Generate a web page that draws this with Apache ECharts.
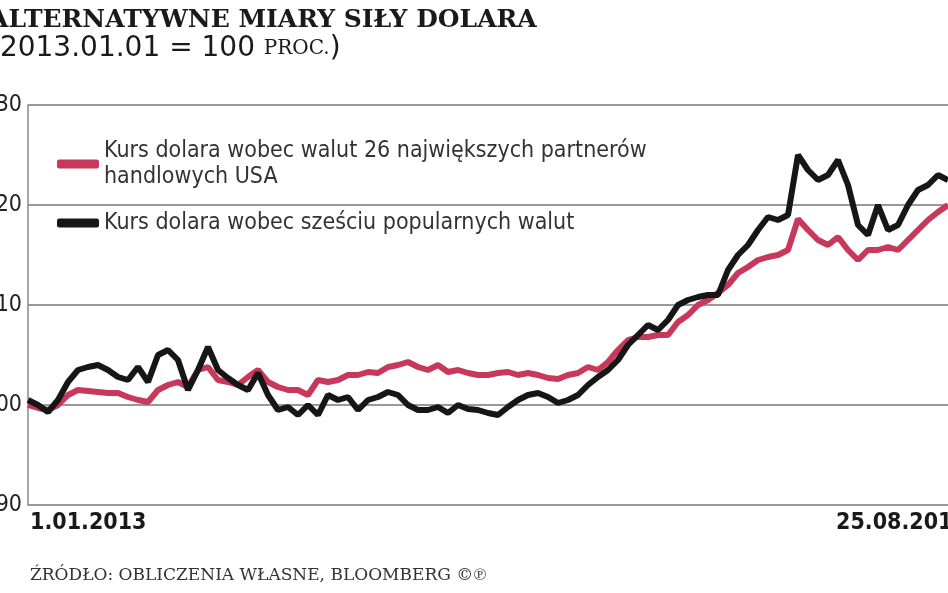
<!DOCTYPE html>
<html>
<head>
<meta charset="utf-8">
<title>Alternatywne miary siły dolara</title>
<script src="https://cdn.jsdelivr.net/npm/echarts@6/dist/echarts.min.js"></script>
</head>
<body style="margin:0">
<div id="main" style="width:948px;height:593px;"></div>
<script type="text/javascript">
// odczyty co ~1 tydzień, od 1.01.2013 do 25.08.2015
var szesc = [100.5,100,99.3,100.5,102.3,103.5,103.8,104,103.5,102.8,102.5,103.8,102.3,105,105.5,104.5,101.5,103.5,105.8,103.5,
  102.7,102,101.5,103.2,101,99.5,99.8,99,100,99,101,100.5,100.8,99.5,100.5,100.8,101.3,101,100,99.5,
  99.5,99.8,99.2,100,99.6,99.5,99.2,99,99.8,100.5,101,101.2,100.8,100.2,100.5,101,102,102.8,103.5,104.5,
  106,107,108,107.5,108.5,110,110.5,110.8,111,111,113.5,115,116,117.5,118.8,118.5,119,125,123.5,122.5,
  123,124.5,122,118,117,120,117.5,118,120,121.5,122,123,122.5];
var partnerzy = [100,99.7,99.5,100,101,101.5,101.4,101.3,101.2,101.2,100.8,100.5,100.3,101.5,102,102.3,101.8,103.5,103.8,102.5,
  102.3,102,102.8,103.5,102.3,101.8,101.5,101.5,101,102.5,102.3,102.5,103,103,103.3,103.2,103.8,104,104.3,103.8,
  103.5,104,103.3,103.5,103.2,103,103,103.2,103.3,103,103.2,103,102.7,102.6,103,103.2,103.8,103.5,104.3,105.5,
  106.5,106.8,106.8,107,107,108.3,109,110,110.5,111.2,112,113.2,113.8,114.5,114.8,115,115.5,118.6,117.5,116.5,
  116,116.8,115.5,114.5,115.5,115.5,115.8,115.5,116.5,117.5,118.5,119.3,120];
var nazwy = ['Kurs dolara wobec walut 26 największych partnerów\nhandlowych USA', 'Kurs dolara wobec sześciu popularnych walut'];
var yTicks = [90, 100, 110, 120, 130];

var idx = [];
for (var i = 0; i < szesc.length; i++) idx.push(i);

var narrow = "'Liberation Sans Narrow', 'DejaVu Sans Condensed', sans-serif";
var myChart = echarts.init(document.getElementById('main'));
var option = {
  animation: false,
  backgroundColor: '#fff',
  grid: { left: 28, right: 0, top: 105, bottom: 88, containLabel: false, outerBoundsMode: 'none' },
  title: {
    left: -16, top: 3,
    text: 'ALTERNATYWNE MIARY SIŁY DOLARA',
    subtext: '{a|(2013.01.01 = 100 }{b|PROC.}{a|)}',
    itemGap: 2,
    textStyle: { fontFamily: "'DejaVu Serif', serif", fontWeight: 'bold', fontSize: 25, color: '#1a1a1a' },
    subtextStyle: {
      rich: {
        a: { fontFamily: "'DejaVu Sans', sans-serif", fontSize: 28, color: '#1a1a1a' },
        b: { fontFamily: "'DejaVu Serif', serif", fontSize: 20, color: '#1a1a1a' }
      }
    }
  },
  legend: {
    orient: 'vertical', left: 52, top: 133, itemGap: 20,
    itemWidth: 42, itemHeight: 9, icon: 'roundRect',
    textStyle: { fontFamily: narrow, fontSize: 23, color: '#333', lineHeight: 26 },
    data: nazwy
  },
  xAxis: {
    type: 'category', data: idx, boundaryGap: false,
    axisLine: { show: false }, axisTick: { show: false }, axisLabel: { show: false }
  },
  yAxis: {
    type: 'value', min: yTicks[0], max: yTicks[yTicks.length - 1], interval: 10,
    axisLine: { show: true, lineStyle: { color: '#888', width: 1.5 } },
    axisTick: { show: false },
    splitLine: { lineStyle: { color: '#777', width: 1.5 } },
    axisLabel: { margin: 6, fontFamily: narrow, fontSize: 23, color: '#222' }
  },
  series: [
    { name: nazwy[0], type: 'line', data: partnerzy, showSymbol: false, smooth: false,
      lineStyle: { color: '#c8385a', width: 6 }, itemStyle: { color: '#c8385a' } },
    { name: nazwy[1], type: 'line', data: szesc, showSymbol: false, smooth: false,
      lineStyle: { color: '#161616', width: 6 }, itemStyle: { color: '#161616' } }
  ],
  graphic: [
    { type: 'text', left: 30, top: 512, style: { text: '1.01.2013', font: 'bold 23px ' + narrow, fill: '#1a1a1a' } },
    { type: 'text', left: 836, top: 512, style: { text: '25.08.2015', font: 'bold 23px ' + narrow, fill: '#1a1a1a' } },
    { type: 'text', left: 30, top: 567, style: { text: 'ŹRÓDŁO: OBLICZENIA WŁASNE, BLOOMBERG ©℗', font: '17px "DejaVu Serif", serif', fill: '#333' } }
  ]
};
myChart.setOption(option);
</script>
</body>
</html>
